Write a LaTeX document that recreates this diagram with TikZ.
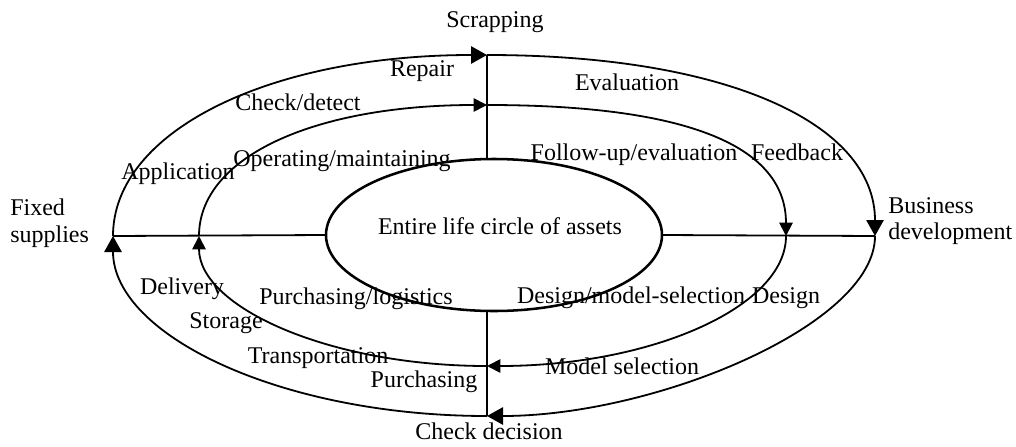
\documentclass[tikz,border=0pt]{standalone}
\usepackage{fontspec}
\setmainfont{Liberation Serif}
\usetikzlibrary{arrows.meta,shapes.geometric}
\begin{document}
\begin{tikzpicture}[x=0.75pt,y=-0.75pt,
  lbl/.style={inner sep=0pt, font=\fontsize{18}{21}\selectfont},
  ring/.style={line width=1.35pt},
  bigtip/.style={-{Triangle[length=12pt,width=13pt]}},
  smalltip/.style={-{Triangle[length=10pt,width=10pt]}}]
\useasboundingbox (0,0) rectangle (1016,446);

% inner ellipse
\node[draw, ellipse, line width=1.9pt, inner sep=0pt, outer sep=0pt,
      minimum width=252pt, minimum height=114pt] (core) at (494,235) {};
\node[lbl, anchor=base] (coretext) at (500,234) {Entire life circle of assets};

% key points
\coordinate (oL) at (113,236);
\coordinate (oT) at (487,55);
\coordinate (oR) at (875,236);
\coordinate (oB) at (487,416);
\coordinate (mL) at (199,236);
\coordinate (mT) at (487,105);
\coordinate (mR) at (786,236);
\coordinate (mB) at (487,366);

% axes
\draw[ring] (oL) -- (core.west);
\draw[ring] (core.east) -- (oR);
\draw[ring] (oT) -- (oT |- core.north);
\draw[ring] (oB |- core.south) -- (oB);

% outer ring
\draw[ring, bigtip] (oL) .. controls (113,131) and (270,55) .. (oT);
\draw[ring, bigtip] (oT) .. controls (728,55) and (875,124) .. (oR);
\draw[ring, bigtip] (oR) .. controls (875,325) and (655,416) .. (oB);
\draw[ring, bigtip] (oB) .. controls (281,416) and (113,335) .. (oL);

% middle ring
\draw[ring, smalltip] (mL) .. controls (199,157) and (314,105) .. (mT);
\draw[ring, smalltip] (mT) .. controls (690,105) and (786,147) .. (mR);
\draw[ring, smalltip] (mR) .. controls (786,307) and (651,366) .. (mB);
\draw[ring, smalltip] (mB) .. controls (329,366) and (199,307) .. (mL);

% labels
\node[lbl, anchor=base] (scrap) at (495,27) {Scrapping};
\node[lbl, anchor=base] (repair) at (422,76) {Repair};
\node[lbl, anchor=base] (check) at (298,110) {Check/detect};
\node[lbl, anchor=base] (appl) at (178,179) {Application};
\node[lbl, anchor=base] (oper) at (342,166) {Operating/maintaining};
\node[lbl, anchor=base west] (fixed1) at (10,215) {Fixed};
\node[lbl, anchor=base west] (fixed2) at (10,242) {supplies};
\node[lbl, anchor=base] (eval) at (627,90) {Evaluation};
\node[lbl, anchor=base] (follow) at (634,160) {Follow-up/evaluation};
\node[lbl, anchor=base] (feed) at (797,160) {Feedback};
\node[lbl, anchor=base west] (bus1) at (888,213) {Business};
\node[lbl, anchor=base west] (bus2) at (888,239) {development};
\node[lbl, anchor=base] (deliv) at (182,294) {Delivery};
\node[lbl, anchor=base] (purlog) at (356,304) {Purchasing/logistics};
\node[lbl, anchor=base] (stor) at (226,328) {Storage};
\node[lbl, anchor=base] (trans) at (318,363) {Transportation};
\node[lbl, anchor=base] (purch) at (424,387) {Purchasing};
\node[lbl, anchor=base] (checkdec) at (489,439) {Check decision};
\node[lbl, anchor=base] (desmod) at (631,303) {Design/model-selection};
\node[lbl, anchor=base] (design) at (786,303) {Design};
\node[lbl, anchor=base] (modsel) at (622,374) {Model selection};
\end{tikzpicture}
\end{document}
